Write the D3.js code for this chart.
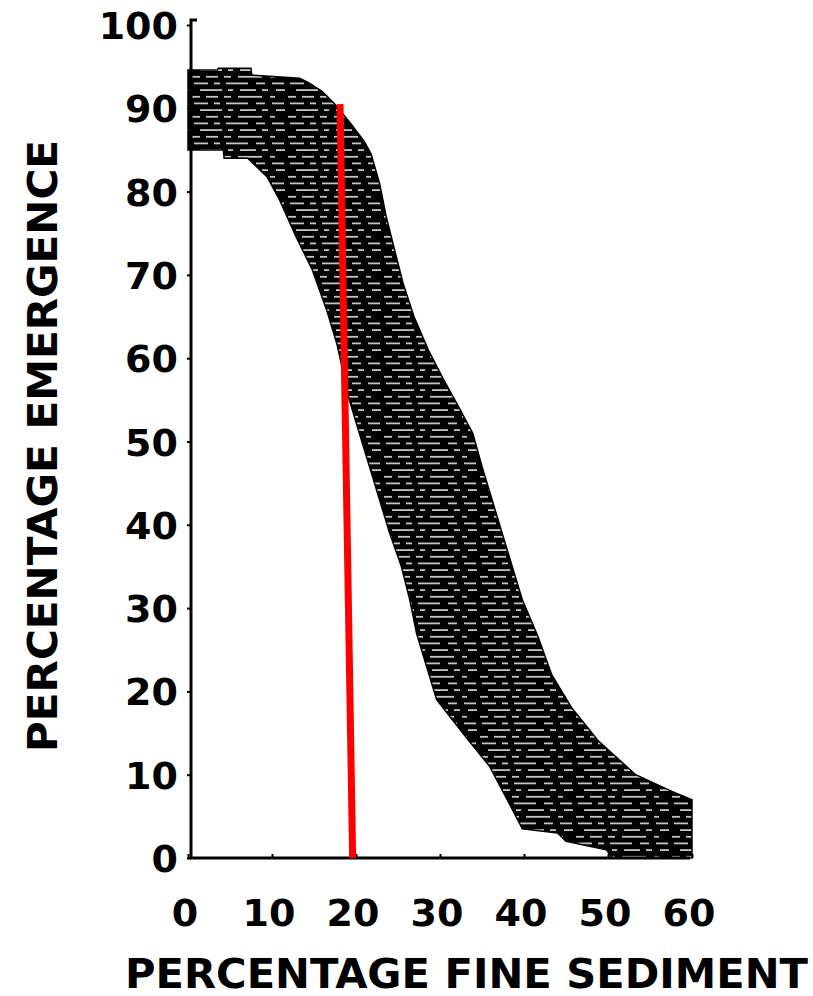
<!DOCTYPE html>
<html>
<head>
  <script src="https://d3js.org/d3.v7.min.js"></script>
  <style>
    body { margin: 0; background: #fff; }
    text { font-family: "DejaVu Sans", sans-serif; font-weight: bold; fill: #000; }
  </style>
</head>
<body>
  <svg id="chart" width="813" height="996"></svg>
  <script>
    // tick values
    const xTicks = [0, 10, 20, 30, 40, 50, 60];
    const yTicks = [0, 10, 20, 30, 40, 50, 60, 70, 80, 90, 100];

    // upper edge of the shaded band (sediment %, emergence %)
    const upperX = [0, 3.5, 3.6, 7.5, 7.6, 13.3, 14.5, 16, 17.5, 19.5, 21, 21.8, 22.8, 23.6, 24.6, 25.6, 26.9, 28.6, 30.4, 32.3, 33.9, 35, 36.2, 37.4, 38.6, 39.8, 41.7, 43.3, 45.7, 48.9, 53.3, 57.6, 60, 60];
    const upperY = [94.6, 94.6, 94.8, 94.8, 94, 93.6, 93, 92, 90.5, 88, 86, 84.5, 81, 77, 73, 69, 65, 61, 57.5, 54, 51, 47, 43, 39, 35, 31, 26.5, 22, 18, 14, 10, 8, 7, 0];

    // lower edge of the shaded band
    const lowerX = [0, 4.2, 4.3, 7.1, 9.4, 10.9, 12.9, 14.8, 16.5, 17.7, 19.2, 20.4, 21.6, 22.8, 24, 25.4, 26.4, 27.2, 28.4, 29.6, 32.7, 35.9, 38, 39.8, 44, 45, 49.8, 50.5, 60];
    const lowerY = [85, 85, 84, 84, 81.8, 79, 74.5, 70.6, 65.8, 61.8, 55, 51, 47, 43, 39, 35, 31, 27, 23, 19, 15, 11, 7, 3.5, 3, 2, 1, 0, 0];

    // red reference line: [x, y] at top and bottom
    const redX = [18.1, 19.6];
    const redY = [90.5, 0];

    const svg = d3.select("#chart");

    const x = d3.scaleLinear().domain([0, 60]).range([188, 692]);
    const y = d3.scaleLinear().domain([0, 100]).range([858, 25]);

    // hatch pattern: black with broken light horizontal lines
    const defs = svg.append("defs");
    const pat = defs.append("pattern")
      .attr("id", "hatch")
      .attr("patternUnits", "userSpaceOnUse")
      .attr("width", 96)
      .attr("height", 20);
    pat.append("rect").attr("width", 96).attr("height", 20).attr("fill", "#000");
    const dashes = [
      [2, 2.5, 14], [22, 2.5, 6], [34, 2.5, 22], [64, 2.5, 9], [80, 2.5, 12],
      [8, 9.2, 22], [36, 9.2, 5], [48, 9.2, 16], [70, 9.2, 6], [84, 9.2, 9],
      [0, 15.9, 8], [14, 15.9, 12], [32, 15.9, 7], [46, 15.9, 24], [78, 15.9, 5]
    ];
    pat.selectAll("rect.d")
      .data(dashes)
      .join("rect")
      .attr("class", "d")
      .attr("x", d => d[0])
      .attr("y", d => d[1])
      .attr("width", d => d[2])
      .attr("height", 1.8)
      .attr("fill", "#c4c4c4");

    // band polygon: upper edge left to right, lower edge right to left
    const upper = upperX.map((v, i) => [v, upperY[i]]);
    const lower = lowerX.map((v, i) => [v, lowerY[i]]).reverse();
    const line = d3.line().x(d => x(d[0])).y(d => y(d[1]));

    svg.append("path")
      .attr("d", line(upper.concat(lower)) + "Z")
      .attr("fill", "url(#hatch)")
      .attr("stroke", "#000")
      .attr("stroke-width", 1.5);

    // axes
    const xAxis = svg.append("g")
      .attr("transform", `translate(0, ${y(0)})`)
      .call(d3.axisBottom(x).tickValues(xTicks).tickSize(-4).tickFormat(""));
    xAxis.select(".domain").attr("stroke-width", 3).attr("d", `M${x(0) + 2},0H${x(60) - 2}`);
    xAxis.selectAll(".tick line").attr("stroke-width", 2);

    const yAxis = svg.append("g")
      .attr("transform", `translate(${x(0) + 3}, 0)`)
      .call(d3.axisLeft(y).tickValues(yTicks).tickSize(4).tickFormat(""));
    yAxis.select(".domain").attr("stroke-width", 3).attr("d", `M6,${y(100) - 5}H0V${y(0)}`);
    yAxis.selectAll(".tick line").attr("stroke-width", 2);

    // tick labels
    svg.append("g").selectAll("text")
      .data(yTicks)
      .join("text")
      .attr("x", 178)
      .attr("y", d => y(d) + 14)
      .attr("text-anchor", "end")
      .attr("font-size", 38)
      .text(d => d);

    svg.append("g").selectAll("text")
      .data(xTicks)
      .join("text")
      .attr("x", d => x(d) - 3)
      .attr("y", 926)
      .attr("text-anchor", "middle")
      .attr("font-size", 38)
      .text(d => d);

    // axis titles
    svg.append("text")
      .attr("x", 125)
      .attr("y", 988)
      .attr("font-size", 40)
      .attr("textLength", 683)
      .attr("lengthAdjust", "spacingAndGlyphs")
      .text("PERCENTAGE FINE SEDIMENT");

    svg.append("text")
      .attr("transform", "translate(57, 752) rotate(-90)")
      .attr("font-size", 40)
      .attr("textLength", 612)
      .attr("lengthAdjust", "spacingAndGlyphs")
      .text("PERCENTAGE EMERGENCE");

    // red line
    svg.append("line")
      .attr("x1", x(redX[0]))
      .attr("y1", y(redY[0]))
      .attr("x2", x(redX[1]))
      .attr("y2", y(redY[1]))
      .attr("stroke", "#ff0000")
      .attr("stroke-width", 7);
  </script>
</body>
</html>
